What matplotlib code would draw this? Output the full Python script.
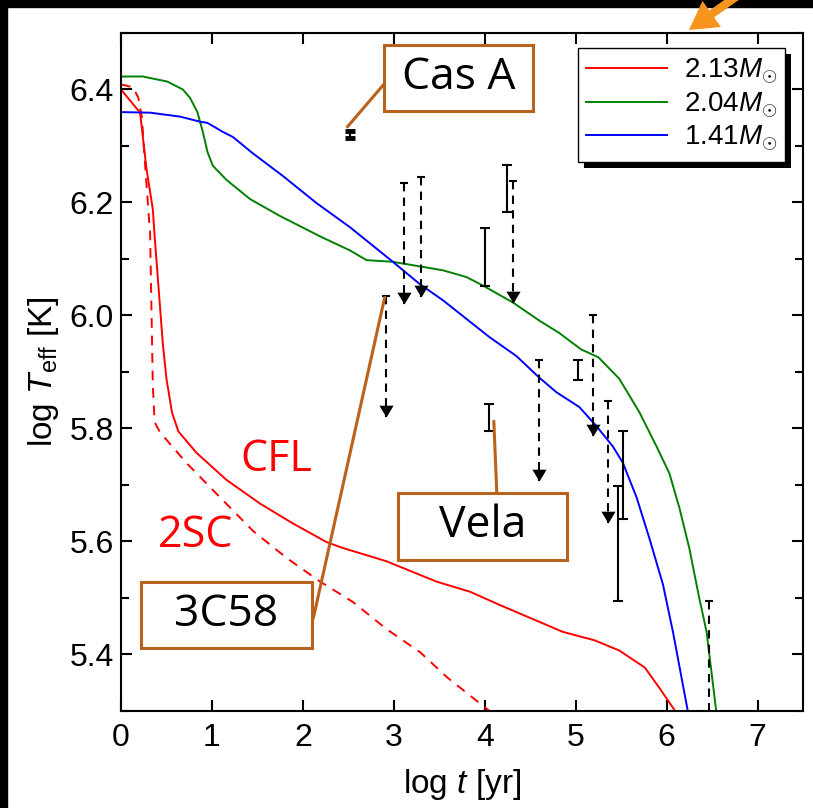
import matplotlib
matplotlib.use("Agg")
import matplotlib.pyplot as plt
from matplotlib.patches import Rectangle, FancyArrowPatch
from matplotlib.transforms import IdentityTransform
from matplotlib.ticker import MultipleLocator

plt.rcParams["font.family"] = ["Liberation Sans", "DejaVu Sans"]
plt.rcParams["mathtext.fontset"] = "custom"
plt.rcParams["mathtext.rm"] = "Liberation Sans"
plt.rcParams["mathtext.it"] = "Liberation Sans:italic"

# cooling curves: log t [yr] vs log Teff [K]
green_x = [0, 0.24, 0.51, 0.68, 0.76, 0.84, 0.90, 0.95, 1.01, 1.16, 1.42, 1.75,
           1.97, 2.19, 2.52, 2.70, 2.99, 3.54, 3.80, 3.98, 4.31, 4.60, 4.82, 5.06,
           5.25, 5.48, 5.70, 5.89, 6.03, 6.14, 6.25, 6.36, 6.44, 6.55]
green_y = [6.423, 6.423, 6.414, 6.400, 6.385, 6.360, 6.325, 6.290, 6.265, 6.240,
           6.206, 6.176, 6.158, 6.140, 6.115, 6.098, 6.095, 6.080, 6.068, 6.053,
           6.023, 5.991, 5.969, 5.940, 5.926, 5.888, 5.829, 5.768, 5.721, 5.660,
           5.588, 5.499, 5.440, 5.294]

blue_x = [0, 0.32, 0.65, 0.87, 0.95, 1.12, 1.23, 1.45, 1.78, 2.15, 2.52, 2.99,
          3.29, 3.54, 4.05, 4.35, 4.60, 4.79, 5.04, 5.23, 5.41, 5.52, 5.67, 5.81,
          5.96, 6.07, 6.24]
blue_y = [6.360, 6.359, 6.352, 6.343, 6.341, 6.325, 6.316, 6.287, 6.247, 6.199,
          6.156, 6.095, 6.055, 6.027, 5.962, 5.928, 5.890, 5.864, 5.838, 5.804,
          5.768, 5.739, 5.678, 5.606, 5.524, 5.440, 5.294]

cfl_x = [0, 0.21, 0.28, 0.35, 0.37, 0.46, 0.50, 0.56, 0.63, 0.83, 1.16, 1.53,
         1.89, 2.26, 2.43, 2.92, 3.47, 3.84, 4.16, 4.86, 5.21, 5.48, 5.76, 5.92,
         6.12]
cfl_y = [6.400, 6.359, 6.260, 6.188, 6.140, 5.950, 5.888, 5.829, 5.795, 5.757,
         5.709, 5.667, 5.632, 5.599, 5.589, 5.565, 5.529, 5.511, 5.488, 5.440,
         5.425, 5.407, 5.377, 5.341, 5.294]

tsc_x = [0, 0.13, 0.19, 0.23, 0.26, 0.30, 0.32, 0.35, 0.37, 0.43, 0.72, 1.09,
         1.45, 1.82, 2.19, 2.55, 2.92, 3.29, 3.59, 4.10]
tsc_y = [6.409, 6.404, 6.386, 6.350, 6.278, 6.188, 6.145, 5.876, 5.811, 5.793,
         5.739, 5.678, 5.619, 5.571, 5.529, 5.493, 5.445, 5.404, 5.359, 5.294]

# observed neutron stars
det_x = [2.52, 4.00, 4.24, 4.05, 5.03, 5.47, 5.52]
det_lo = [6.314, 6.053, 6.183, 5.795, 5.885, 5.495, 5.640]
det_hi = [6.326, 6.154, 6.267, 5.843, 5.922, 5.698, 5.795]

ul_x = [2.91, 3.11, 3.30, 4.31, 4.60, 5.19, 5.36, 6.47]
ul_top = [6.035, 6.235, 6.246, 6.238, 5.922, 6.000, 5.849, 5.495]
ul_end = [5.82, 6.02, 6.032, 6.023, 5.707, 5.786, 5.633, 5.20]

legend_labels = [r"2.13$M_{\odot}$", r"2.04$M_{\odot}$", r"1.41$M_{\odot}$"]
x_ticks = [0, 1, 2, 3, 4, 5, 6, 7]
y_ticks = [5.4, 5.6, 5.8, 6.0, 6.2, 6.4]

box_color = "#B8621B"


def main():
    fig = plt.figure(figsize=(8.13, 8.08), dpi=100)
    ax = fig.add_axes([121 / 813, 1 - 711 / 808, 682 / 813, 678 / 808])

    l1, = ax.plot(cfl_x, cfl_y, color="red", lw=1.4)
    ax.plot(tsc_x, tsc_y, color="red", lw=1.4, ls=(0, (5, 4)))
    l2, = ax.plot(green_x, green_y, color="green", lw=1.4)
    l3, = ax.plot(blue_x, blue_y, color="blue", lw=1.4)

    # detections
    for x, lo, hi in zip(det_x, det_lo, det_hi):
        ax.errorbar([x], [(lo + hi) / 2], yerr=[[(hi - lo) / 2], [(hi - lo) / 2]],
                    fmt="none", ecolor="black", elinewidth=1.5, capsize=3.6,
                    capthick=1.5 if x != det_x[0] else 3.5)

    # upper limits
    tri = [(0, 0), (-0.6, 1), (0.6, 1), (0, 0)]
    for x, top, end in zip(ul_x, ul_top, ul_end):
        ax.plot([x, x], [top, end], color="black", lw=1.5, ls=(0, (4, 3)))
        ax.plot([x], [top], marker="_", ms=6, mew=1.5, color="black")
        ax.plot([x], [end], marker=tri, ms=17, color="black", mew=0)

    ax.set_xlim(0, 7.5)
    ax.set_ylim(5.3, 6.5)
    ax.set_xticks(x_ticks)
    ax.set_yticks(y_ticks)
    ax.yaxis.set_minor_locator(MultipleLocator(0.1))
    ax.tick_params(which="both", direction="in", top=True, right=True,
                   width=1.5, labelsize=23)
    ax.tick_params(which="major", length=8)
    ax.tick_params(which="minor", length=6)
    ax.tick_params(axis="x", pad=9)
    ax.tick_params(axis="y", pad=5)
    for s in ax.spines.values():
        s.set_linewidth(1.5)

    ax.set_xlabel(r"log $t$ [yr]", fontsize=24, labelpad=10)
    ax.set_ylabel(r"log $T_{\rm eff}$ [K]", fontsize=24, labelpad=6)

    ax.text(1.71, 5.745, "CFL", color="red", fontsize=31, family="Open Sans",
            ha="center", va="center")
    ax.text(0.82, 5.61, "2SC", color="red", fontsize=31, family="Open Sans",
            ha="center", va="center")

    boxes = [("Cas A", (0.386, 0.885, 0.604, 0.982), (0.386, 0.925), (2.49, 6.334)),
             ("Vela", (0.406, 0.223, 0.654, 0.322), (0.551, 0.322), (4.10, 5.813)),
             ("3C58", (0.029, 0.093, 0.280, 0.190), (0.282, 0.137), (2.90, 6.032))]
    for text, (x0, y0, x1, y1), start, end in boxes:
        ax.add_patch(Rectangle((x0, y0), x1 - x0, y1 - y0, transform=ax.transAxes,
                               facecolor="white", edgecolor=box_color, lw=2.2,
                               zorder=6))
        ax.text((x0 + x1) / 2, (y0 + y1) / 2, text, transform=ax.transAxes,
                fontsize=32, family="Open Sans", ha="center", va="center",
                zorder=7)
        ax.annotate("", xy=end, xycoords="data", xytext=start,
                    textcoords="axes fraction",
                    arrowprops=dict(arrowstyle="-", color=box_color, lw=2.2,
                                    shrinkA=0, shrinkB=0), zorder=6)

    leg = ax.legend([l1, l2, l3], legend_labels, loc="upper right",
                    bbox_to_anchor=(0.974, 0.978), borderaxespad=0, fontsize=20,
                    fancybox=False, framealpha=1, edgecolor="black",
                    handlelength=2.9, handletextpad=0.6, labelspacing=0.15,
                    borderpad=0.3)
    leg.get_frame().set_linewidth(1.0)
    leg.set_zorder(8)

    fig.canvas.draw()
    bb = leg.get_window_extent()
    ax.add_patch(Rectangle((bb.x0 + 6, bb.y0 - 6), bb.width, bb.height,
                           transform=IdentityTransform(), facecolor="black",
                           edgecolor="none", zorder=7.5, clip_on=False))

    # black border strips and orange pointer
    fig.add_artist(Rectangle((0, 1 - 7 / 808), 1, 7 / 808, transform=fig.transFigure,
                             color="black", zorder=10))
    fig.add_artist(Rectangle((0, 0), 7 / 813, 1, transform=fig.transFigure,
                             color="black", zorder=10))
    fig.add_artist(FancyArrowPatch((740 / 813, 1 + 6 / 808), (689 / 813, 1 - 30 / 808),
                                   transform=fig.transFigure,
                                   arrowstyle="simple,head_length=20,head_width=23,tail_width=6",
                                   mutation_scale=1, color="#F7941E", lw=0,
                                   shrinkA=0, shrinkB=0, zorder=11))

    fig.savefig("out.png", dpi=100)


if __name__ == "__main__":
    main()
